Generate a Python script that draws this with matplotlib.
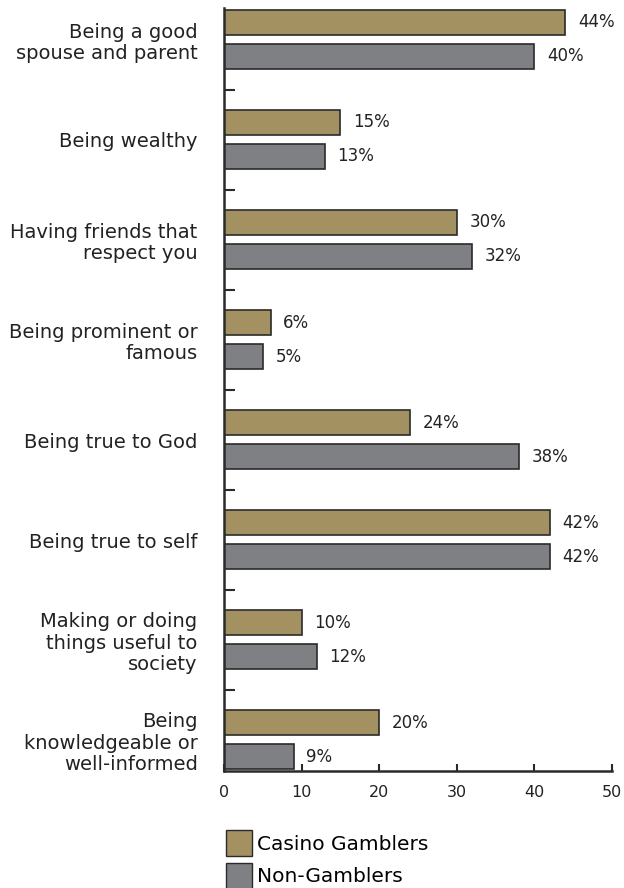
import numpy as np
import matplotlib.pyplot as plt
from matplotlib.patches import Patch

plt.rcParams['font.family'] = ['DejaVu Sans']

categories = [
    "Being a good\nspouse and parent",
    "Being wealthy",
    "Having friends that\nrespect you",
    "Being prominent or\nfamous",
    "Being true to God",
    "Being true to self",
    "Making or doing\nthings useful to\nsociety",
    "Being\nknowledgeable or\nwell-informed",
]
casino = [44, 15, 30, 6, 24, 42, 10, 20]
non_gamblers = [40, 13, 32, 5, 38, 42, 12, 9]
series_names = ["Casino Gamblers", "Non-Gamblers"]

gold = '#a39162'
gray = '#7f8083'
edge = '#2a2a2a'
txt = '#222222'

fig = plt.figure(figsize=(6.24, 8.88), dpi=100)
ax = fig.add_axes([224 / 624, 1 - 771 / 888, (612 - 224) / 624, (771 - 8) / 888])

y = np.arange(len(categories))
h = 0.245
ax.barh(y - 0.175, casino, height=h, color=gold, edgecolor=edge, linewidth=1.2)
ax.barh(y + 0.165, non_gamblers, height=h, color=gray, edgecolor=edge, linewidth=1.2)

# value labels
for yi, v in zip(y - 0.175, casino):
    ax.annotate(f"{v}%", (v, yi), xytext=(9, 0), textcoords='offset points',
                va='center', ha='left', fontsize=12, color=txt)
for yi, v in zip(y + 0.165, non_gamblers):
    ax.annotate(f"{v}%", (v, yi), xytext=(9, 0), textcoords='offset points',
                va='center', ha='left', fontsize=12, color=txt)

ax.set_xlim(0, 50)
ax.set_ylim(7.31, -0.32)
ax.set_xticks([0, 10, 20, 30, 40, 50])
ax.tick_params(axis='x', direction='in', length=5, width=1.5, color=edge,
               labelsize=11.5, labelcolor=txt, pad=10)

ax.set_yticks(y)
ax.set_yticklabels(categories, fontsize=14, color=txt, ha='right', linespacing=1.15)
ax.tick_params(axis='y', which='major', length=0, pad=19)
ax.set_yticks(y[:-1] + 0.5, minor=True)
ax.tick_params(axis='y', which='minor', direction='in', length=8, width=1.5, color=edge)

for s in ['top', 'right']:
    ax.spines[s].set_visible(False)
for s in ['left', 'bottom']:
    ax.spines[s].set_linewidth(1.8)
    ax.spines[s].set_color(edge)

handles = [Patch(facecolor=gold, edgecolor=edge, linewidth=1),
           Patch(facecolor=gray, edgecolor=edge, linewidth=1)]
fig.legend(handles, series_names, loc='upper left',
           bbox_to_anchor=(226 / 624, 1 - 830 / 888), frameon=False,
           fontsize=14.5, handlelength=1.3, handleheight=1.6,
           handletextpad=0.25, labelspacing=0.35, borderaxespad=0, borderpad=0)

fig.savefig('out.png', dpi=100)
